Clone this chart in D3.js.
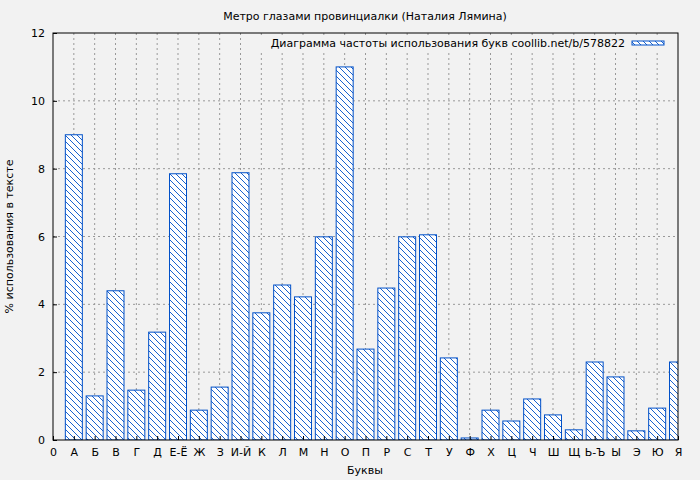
<!DOCTYPE html>
<html><head><meta charset="utf-8">
<script src="https://cdn.jsdelivr.net/npm/d3@7"></script>
<style>body{margin:0;background:#f2f2f2;} text{font-family:"DejaVu Sans",sans-serif;}</style>
</head><body><svg id="c" width="700" height="480"></svg>
<script>
// letter frequency data
const letters = ["А","Б","В","Г","Д","Е-Ё","Ж","З","И-Й","К","Л","М","Н","О","П","Р","С","Т","У","Ф","Х","Ц","Ч","Ш","Щ","Ь-Ъ","Ы","Э","Ю","Я"];
const values = [9.0,1.3,4.4,1.47,3.18,7.85,0.88,1.56,7.88,3.75,4.57,4.22,5.99,11.0,2.68,4.48,5.99,6.05,2.42,0.06,0.88,0.56,1.21,0.74,0.3,2.3,1.86,0.27,0.94,2.3];
const yTicks = [0,2,4,6,8,10,12];

const margin = {left: 53, right: 22, top: 33, bottom: 40};
const W = 700, H = 480;
const iw = W - margin.left - margin.right, ih = H - margin.top - margin.bottom;
const svg = d3.select("#c");
const blue = "#0050c8";

const defs = svg.append("defs");
const pat = defs.append("pattern").attr("id", "hatch").attr("patternUnits", "userSpaceOnUse")
    .attr("width", 6).attr("height", 6);
pat.append("rect").attr("width", 6).attr("height", 6).attr("fill", "#fff");
pat.append("path").attr("d", "M-1,-1 L7,7 M-1,5 L1,7 M5,-1 L7,1").attr("stroke", blue).attr("stroke-width", 0.9);
defs.append("clipPath").attr("id", "clip").append("rect").attr("width", iw).attr("height", ih);

const g = svg.append("g").attr("transform", `translate(${margin.left},${margin.top})`);
const x = d3.scaleLinear().domain([0, letters.length]).range([0, iw]);
const y = d3.scaleLinear().domain([0, 12]).range([ih, 0]);

// grid
g.append("g").selectAll("line").data(d3.range(1, letters.length)).enter().append("line")
    .attr("x1", d => x(d)).attr("x2", d => x(d)).attr("y1", 0).attr("y2", ih)
    .attr("stroke", "#999").attr("stroke-dasharray", "2,3");
g.append("g").selectAll("line").data(yTicks.slice(1, -1)).enter().append("line")
    .attr("y1", d => y(d)).attr("y2", d => y(d)).attr("x1", 0).attr("x2", iw)
    .attr("stroke", "#999").attr("stroke-dasharray", "2,3");

// bars
const bw = 17;
g.append("g").attr("clip-path", "url(#clip)").selectAll("rect").data(values).enter().append("rect")
    .attr("x", (d, i) => x(i + 1) - bw / 2).attr("width", bw)
    .attr("y", d => y(d)).attr("height", d => ih - y(d))
    .attr("fill", "url(#hatch)").attr("stroke", blue).attr("stroke-width", 1);

// axes
const xa = g.append("g").attr("transform", `translate(0,${ih})`)
    .call(d3.axisBottom(x).tickValues(d3.range(0, letters.length + 1))
        .tickFormat(d => d === 0 ? "0" : letters[d - 1]).tickSize(-4).tickPadding(8));
const ya = g.append("g").call(d3.axisLeft(y).tickValues(yTicks).tickSize(-4).tickPadding(8));
[xa, ya].forEach(a => {
    a.select(".domain").remove();
    a.selectAll("text").attr("font-size", 11).attr("fill", "#000").style("font-family", "DejaVu Sans");
    a.selectAll("line").attr("stroke", "#000");
});
g.append("rect").attr("width", iw).attr("height", ih).attr("fill", "none").attr("stroke", "#000");

// legend
const lg = g.append("g");
lg.append("rect").attr("x", 188).attr("y", 2).attr("width", 434).attr("height", 16).attr("fill", "#f2f2f2");
lg.append("text").attr("x", 572).attr("y", 14).attr("text-anchor", "end").attr("font-size", 11)
    .text("Диаграмма частоты использования букв coollib.net/b/578822");
lg.append("rect").attr("x", 579).attr("y", 8).attr("width", 32).attr("height", 4)
    .attr("fill", "url(#hatch)").attr("stroke", blue);

// titles
svg.append("text").attr("x", 365).attr("y", 20).attr("text-anchor", "middle").attr("font-size", 11)
    .text("Метро глазами провинциалки (Наталия Лямина)");
svg.append("text").attr("x", 365).attr("y", 474).attr("text-anchor", "middle").attr("font-size", 11).text("Буквы");
svg.append("text").attr("transform", `translate(13,${margin.top + ih / 2}) rotate(-90)`)
    .attr("text-anchor", "middle").attr("font-size", 11).text("% использования в тексте");
</script></body></html>
